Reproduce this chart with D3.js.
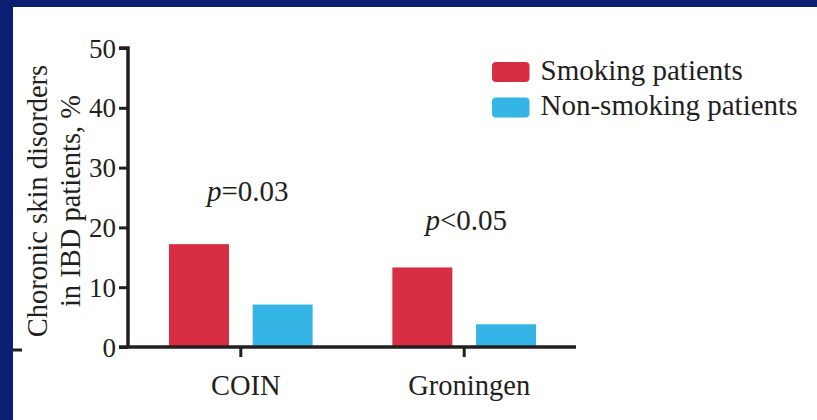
<!DOCTYPE html>
<html>
<head>
<meta charset="utf-8">
<script src="https://cdn.jsdelivr.net/npm/d3@7/dist/d3.min.js"></script>
<style>
  html, body { margin: 0; padding: 0; background: #ffffff; }
  svg { display: block; }
  text { font-family: "Liberation Serif", "Times New Roman", serif; fill: #231f20; }
</style>
</head>
<body>
<svg id="chart" width="817" height="420"></svg>
<script>
// Cohorts, series and measured prevalence (%)
const groups = ["COIN", "Groningen"];
const series = ["Smoking patients", "Non-smoking patients"];
const smoking = [17.2, 13.3];
const nonSmoking = [7.1, 3.8];
const pLabels = ["p=0.03", "p<0.05"];
const yTicks = [0, 10, 20, 30, 40, 50];
const colors = ["#d92d44", "#35b5e5"];

const svg = d3.select("#chart");
const W = 817, H = 420;

// frame: navy band along top and left edges
svg.append("rect").attr("x", 0).attr("y", 0).attr("width", W).attr("height", H).attr("fill", "#0b1f72");
svg.append("rect").attr("x", 13).attr("y", 7).attr("width", W - 13).attr("height", H - 7).attr("fill", "#ffffff");

const y = d3.scaleLinear().domain([0, 50]).range([347, 48]);
const x0 = d3.scaleBand().domain(groups).range([129, 576]).paddingInner(0.357).paddingOuter(0.179);
const x1 = d3.scaleBand().domain(series).range([0, x0.bandwidth()]).paddingInner(0.283);

const rows = groups.map((g, i) => ({ group: g, values: [smoking[i], nonSmoking[i]], p: pLabels[i] }));

// bars
const gGroups = svg.append("g").selectAll("g").data(rows).join("g")
  .attr("transform", d => `translate(${x0(d.group)},0)`);
gGroups.selectAll("rect")
  .data(d => d.values.map((v, j) => ({ key: series[j], value: v, color: colors[j] })))
  .join("rect")
  .attr("x", d => x1(d.key))
  .attr("y", d => y(d.value))
  .attr("width", x1.bandwidth())
  .attr("height", d => y(0) - y(d.value))
  .attr("fill", d => d.color);

// y axis
const yAxis = svg.append("g").attr("transform", "translate(128,0)")
  .call(d3.axisLeft(y).tickValues(yTicks).tickSize(9).tickSizeOuter(0).tickPadding(3));
yAxis.select(".domain").attr("stroke", "#231f20").attr("stroke-width", 3.5);
yAxis.selectAll(".tick line").attr("stroke", "#231f20").attr("stroke-width", 3);
yAxis.selectAll(".tick text").attr("font-size", 27).attr("font-family", "Liberation Serif").attr("fill", "#231f20").attr("dy", "0.34em");
// square top corner of the y axis
yAxis.select(".domain").attr("d", `M-9,${y(50)}H0V${y(0)}`).attr("fill", "none");

// x axis
const xAxis = svg.append("g").attr("transform", `translate(0,${y(0)})`)
  .call(d3.axisBottom(x0).tickSize(10).tickSizeOuter(0).tickPadding(18));
xAxis.select(".domain").attr("d", `M119,0H576`).attr("stroke", "#231f20").attr("stroke-width", 3.5);
xAxis.selectAll(".tick line").attr("stroke", "#231f20").attr("stroke-width", 3);
xAxis.selectAll(".tick text").attr("font-size", 28.5).attr("font-family", "Liberation Serif").attr("fill", "#231f20").attr("dx", 5);

// p-value annotations
const pOffsets = [{ dx: 7, dy: 201 }, { dx: 2, dy: 230 }];
svg.append("g").selectAll("text").data(rows).join("text")
  .attr("x", (d, i) => x0(d.group) + x0.bandwidth() / 2 + pOffsets[i].dx)
  .attr("y", (d, i) => pOffsets[i].dy)
  .attr("text-anchor", "middle")
  .attr("font-size", 29)
  .each(function (d) {
    const t = d3.select(this);
    t.append("tspan").attr("font-style", "italic").text(d.p.charAt(0));
    t.append("tspan").text(d.p.slice(1));
  });

// y axis title
const yTitle = svg.append("text").attr("transform", "translate(47,201) rotate(-90)").attr("text-anchor", "middle").attr("font-size", 28.5);
yTitle.append("tspan").attr("x", 0).attr("y", 0).text("Choronic skin disorders");
yTitle.append("tspan").attr("x", 0).attr("y", 32.5).text("in IBD patients, %");

// small left margin mark
svg.append("line").attr("x1", 13).attr("x2", 22).attr("y1", 350).attr("y2", 350).attr("stroke", "#231f20").attr("stroke-width", 3);

// legend
const legend = svg.append("g").attr("transform", "translate(492,62)");
const li = legend.selectAll("g").data(series).join("g").attr("transform", (d, i) => `translate(0,${i * 35.6})`);
li.append("rect").attr("width", 37.5).attr("height", 20).attr("rx", 4).attr("fill", (d, i) => colors[i]);
li.append("text").attr("x", 48.5).attr("y", 17.5).attr("font-size", 29).text(d => d);
</script>
</body>
</html>
